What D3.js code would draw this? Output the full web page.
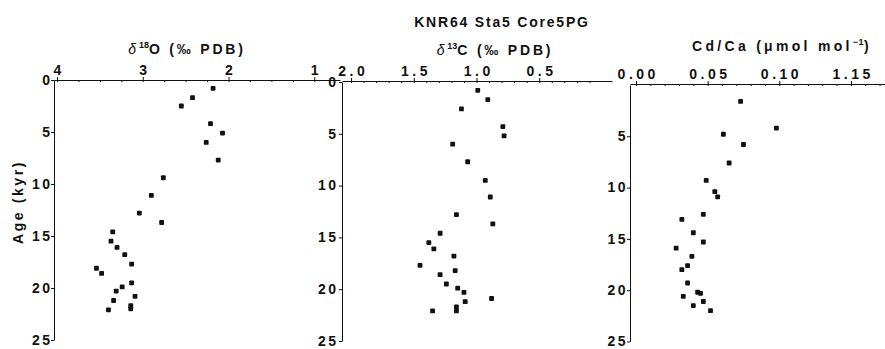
<!DOCTYPE html>
<html>
<head>
<meta charset="utf-8">
<script src="https://cdn.jsdelivr.net/npm/d3@7"></script>
<style>
  body { margin: 0; background: #fff; }
  svg { display: block; }
  text { font-family: "Liberation Sans", Arial, sans-serif; font-weight: bold; fill: #111; }
  .domain, .tick line { stroke: #111; }
</style>
</head>
<body>
<div id="chart"></div>
<script>
// ages (kyr) and values
const d18oAge = [0.8, 1.7, 2.5, 4.2, 5.1, 6.0, 7.7, 9.4, 11.1, 12.8, 13.7, 14.6, 15.5, 16.1, 16.8, 17.7, 18.1, 18.6, 19.5, 19.9, 20.3, 20.8, 21.2, 21.7, 22.0, 22.1];
const d18oVal = [2.18, 2.42, 2.55, 2.21, 2.07, 2.26, 2.12, 2.76, 2.90, 3.04, 2.78, 3.35, 3.37, 3.30, 3.21, 3.13, 3.54, 3.48, 3.13, 3.24, 3.31, 3.09, 3.34, 3.14, 3.14, 3.40];

const d13cAge = [0.8, 1.7, 2.6, 4.3, 5.2, 6.0, 7.7, 9.5, 11.1, 12.8, 13.7, 14.6, 15.5, 16.1, 16.8, 17.7, 18.2, 18.6, 19.5, 19.9, 20.3, 20.9, 21.2, 21.7, 22.1, 22.1];
const d13cVal = [0.99, 0.91, 1.12, 0.79, 0.78, 1.19, 1.07, 0.93, 0.89, 1.16, 0.87, 1.29, 1.38, 1.34, 1.18, 1.45, 1.17, 1.29, 1.24, 1.15, 1.10, 0.88, 1.09, 1.16, 1.16, 1.35];

const cdcaAge = [1.6, 4.2, 4.8, 5.8, 7.6, 9.3, 10.4, 10.9, 12.6, 13.1, 14.4, 15.3, 15.9, 16.7, 17.6, 18.0, 19.3, 20.2, 20.3, 20.6, 21.1, 21.5, 22.0];
const cdcaVal = [0.073, 0.098, 0.061, 0.075, 0.065, 0.049, 0.055, 0.057, 0.047, 0.032, 0.040, 0.047, 0.028, 0.039, 0.036, 0.032, 0.036, 0.043, 0.045, 0.033, 0.047, 0.040, 0.052];

const d18oTicks = [4, 3, 2, 1];
const d18oLabels = ['4', '3', '2', '1'];
const d13cTicks = [2.0, 1.5, 1.0, 0.5];
const d13cLabels = ['2.0', '1.5', '1.0', '0.5'];
const cdcaTicks = [0, 0.05, 0.10, 0.15];
const cdcaLabels = ['0.00', '0.05', '0.10', '1.15'];
const ageTicks = [0, 5, 10, 15, 20, 25];

const width = 885;
const height = 349;

const svg = d3.select('#chart').append('svg')
  .attr('width', width)
  .attr('height', height);

const panels = [
  {
    age: d18oAge, val: d18oVal, ticks: d18oTicks, labels: d18oLabels,
    xDomain: [4.035, 0.7], xRange: [54, 340], yRange: [80, 340], top: 80,
    minor: d3.range(4, 0.99, -0.25), ageTicks: ageTicks, pad: 1,
    titleX: 187, titleY: 54, title: 'o', spacing: 2.8,
  },
  {
    age: d13cAge, val: d13cVal, ticks: d13cTicks, labels: d13cLabels,
    xDomain: [2.072, -0.08], xRange: [342, 612], yRange: [82, 341], top: 81,
    minor: d3.range(2.0, 0.05, -0.1), ageTicks: ageTicks, pad: 3,
    titleX: 495, titleY: 55, title: 'c', spacing: 2.8,
  },
  {
    age: cdcaAge, val: cdcaVal, ticks: cdcaTicks, labels: cdcaLabels,
    xDomain: [-0.0042, 0.1738], xRange: [630, 885], yRange: [85, 341.5], top: 84,
    minor: d3.range(0, 0.171, 0.01), ageTicks: ageTicks.slice(1), pad: 1.5,
    titleX: 782, titleY: 51, title: 'cd', spacing: 3.3,
  },
];

panels.forEach((p) => {
  const x = d3.scaleLinear().domain(p.xDomain).range(p.xRange);
  const y = d3.scaleLinear().domain([0, 25]).range(p.yRange);

  // small minor ticks on the top axis
  svg.append('g')
    .attr('transform', `translate(0, ${p.top})`)
    .call(d3.axisTop(x).tickValues(p.minor).tickSize(-2).tickSizeOuter(0).tickFormat(''))
    .call(g => g.select('.domain').remove());

  const xAxis = svg.append('g')
    .attr('transform', `translate(0, ${p.top})`)
    .call(
      d3.axisTop(x)
        .tickValues(p.ticks)
        .tickSize(3)
        .tickSizeOuter(0)
        .tickPadding(2)
        .tickFormat((d, i) => p.labels[i]),
    );
  xAxis.selectAll('text')
    .style('font-size', '14px')
    .style('letter-spacing', '3.5px')
    .attr('dx', '1.7px');

  const yAxis = svg.append('g')
    .attr('transform', `translate(${p.xRange[0]}, 0)`)
    .call(d3.axisLeft(y).tickValues(p.ageTicks).tickSize(3).tickSizeOuter(0).tickPadding(p.pad - 2.5));
  yAxis.selectAll('text')
    .attr('dy', '0.3em')
    .style('font-size', '14px')
    .style('letter-spacing', '2.5px');

  svg.selectAll(null)
    .data(p.age.map((a, i) => ({ age: a, val: p.val[i] })))
    .enter()
    .append('rect')
    .attr('x', d => x(d.val) - 2.4)
    .attr('y', d => y(d.age) - 2.4)
    .attr('width', 4.8)
    .attr('height', 4.8)
    .attr('rx', 0.9)
    .style('fill', '#111');

  const t = svg.append('text')
    .attr('x', p.titleX)
    .attr('y', p.titleY)
    .attr('text-anchor', 'middle')
    .style('font-size', '14px')
    .style('letter-spacing', `${p.spacing}px`);

  if (p.title === 'o' || p.title === 'c') {
    t.append('tspan').style('font-style', 'italic').style('font-weight', 'normal').text('δ');
    t.append('tspan').attr('dy', -6).style('font-size', '9px').style('letter-spacing', '0px')
      .text(p.title === 'o' ? '18' : '13');
    t.append('tspan').attr('dy', 6).text(p.title === 'o' ? 'O (‰ PDB)' : 'C (‰ PDB)');
  } else {
    t.append('tspan').text('Cd/Ca (μmol mol');
    t.append('tspan').attr('dy', -6).style('font-size', '9px').style('letter-spacing', '0.5px').text('−1');
    t.append('tspan').attr('dy', 6).text(')');
  }
});

svg.append('text')
  .attr('x', 502)
  .attr('y', 26.5)
  .attr('text-anchor', 'middle')
  .style('font-size', '14px')
  .style('letter-spacing', '1.8px')
  .text('KNR64 Sta5 Core5PG');

svg.append('text')
  .attr('transform', 'translate(23, 202) rotate(-90)')
  .attr('text-anchor', 'middle')
  .style('font-size', '14px')
  .style('letter-spacing', '2.6px')
  .text('Age (kyr)');
</script>
</body>
</html>
